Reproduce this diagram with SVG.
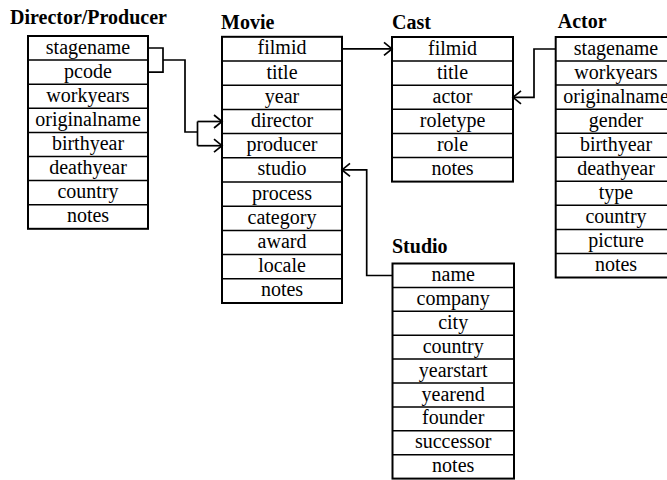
<svg xmlns="http://www.w3.org/2000/svg" width="667" height="480" viewBox="0 0 667 480">
<style>
.t{font-family:"Liberation Serif","Times New Roman",serif;font-size:20px;fill:#000;text-anchor:middle}
.h{font-family:"Liberation Serif","Times New Roman",serif;font-size:20px;font-weight:bold;fill:#000}
.box{fill:#fff;stroke:#000;stroke-width:2}
.ln{stroke:#000;stroke-width:1.5}
.c{fill:none;stroke:#000;stroke-width:1.7}
</style>
<defs>
<marker id="arr" markerUnits="userSpaceOnUse" markerWidth="12" markerHeight="16" refX="8.5" refY="8" orient="auto" overflow="visible">
<path d="M0.5,1.5 L8.5,8 L0.5,14.5" fill="none" stroke="#000" stroke-width="1.7"/>
</marker>
</defs>
<rect width="667" height="480" fill="#fff"/>

<g id="director">
<text class="h" x="10" y="23.7">Director/Producer</text>
<rect class="box" x="28" y="36" width="120" height="192.8"/>
<path class="ln" d="M28,60.1H148M28,84.2H148M28,108.3H148M28,132.4H148M28,156.5H148M28,180.6H148M28,204.7H148"/>
<text class="t" x="88" y="53.5">stagename</text>
<text class="t" x="88" y="77.6">pcode</text>
<text class="t" x="88" y="101.7">workyears</text>
<text class="t" x="88" y="125.8">originalname</text>
<text class="t" x="88" y="149.9">birthyear</text>
<text class="t" x="88" y="174">deathyear</text>
<text class="t" x="88" y="198.1">country</text>
<text class="t" x="88" y="222.2">notes</text>
</g>

<g id="movie">
<text class="h" x="221" y="29">Movie</text>
<rect class="box" x="222" y="36.8" width="120" height="266.2"/>
<path class="ln" d="M222,61H342M222,85.2H342M222,109.4H342M222,133.6H342M222,157.8H342M222,182H342M222,206.2H342M222,230.4H342M222,254.6H342M222,278.8H342"/>
<text class="t" x="282" y="54.3">filmid</text>
<text class="t" x="282" y="78.5">title</text>
<text class="t" x="282" y="102.7">year</text>
<text class="t" x="282" y="126.9">director</text>
<text class="t" x="282" y="151.1">producer</text>
<text class="t" x="282" y="175.3">studio</text>
<text class="t" x="282" y="199.5">process</text>
<text class="t" x="282" y="223.7">category</text>
<text class="t" x="282" y="247.9">award</text>
<text class="t" x="282" y="272.1">locale</text>
<text class="t" x="282" y="296.3">notes</text>
</g>

<g id="cast">
<text class="h" x="392" y="29">Cast</text>
<rect class="box" x="392" y="37" width="121" height="144.6"/>
<path class="ln" d="M392,61.1H513M392,85.2H513M392,109.3H513M392,133.4H513M392,157.5H513"/>
<text class="t" x="452.5" y="54.5">filmid</text>
<text class="t" x="452.5" y="78.6">title</text>
<text class="t" x="452.5" y="102.7">actor</text>
<text class="t" x="452.5" y="126.8">roletype</text>
<text class="t" x="452.5" y="150.9">role</text>
<text class="t" x="452.5" y="175">notes</text>
</g>

<g id="actor">
<text class="h" x="557.7" y="28">Actor</text>
<rect class="box" x="555.7" y="37" width="120.6" height="240.5"/>
<path class="ln" d="M555.7,61.05H676M555.7,85.1H676M555.7,109.15H676M555.7,133.2H676M555.7,157.25H676M555.7,181.3H676M555.7,205.35H676M555.7,229.4H676M555.7,253.45H676"/>
<text class="t" x="616" y="54.5">stagename</text>
<text class="t" x="616" y="78.55">workyears</text>
<text class="t" x="616" y="102.6">originalname</text>
<text class="t" x="616" y="126.65">gender</text>
<text class="t" x="616" y="150.7">birthyear</text>
<text class="t" x="616" y="174.75">deathyear</text>
<text class="t" x="616" y="198.8">type</text>
<text class="t" x="616" y="222.85">country</text>
<text class="t" x="616" y="246.9">picture</text>
<text class="t" x="616" y="270.95">notes</text>
</g>

<g id="studio">
<text class="h" x="392" y="252.7">Studio</text>
<rect class="box" x="392.5" y="263.5" width="121.5" height="215.1"/>
<path class="ln" d="M392.5,287.4H514M392.5,311.3H514M392.5,335.2H514M392.5,359.1H514M392.5,383H514M392.5,406.9H514M392.5,430.8H514M392.5,454.7H514"/>
<text class="t" x="453.2" y="281">name</text>
<text class="t" x="453.2" y="304.9">company</text>
<text class="t" x="453.2" y="328.8">city</text>
<text class="t" x="453.2" y="352.7">country</text>
<text class="t" x="453.2" y="376.6">yearstart</text>
<text class="t" x="453.2" y="400.5">yearend</text>
<text class="t" x="453.2" y="424.4">founder</text>
<text class="t" x="453.2" y="448.3">successor</text>
<text class="t" x="453.2" y="472.2">notes</text>
</g>

<g id="connectors">
<path class="c" d="M148,48H163V72.2H148"/>
<path class="c" d="M163,60H185V132H197.5"/>
<path class="c" d="M197.5,121.5V145.7"/>
<path class="c" d="M197.5,121.5H222" marker-end="url(#arr)"/>
<path class="c" d="M197.5,145.7H222" marker-end="url(#arr)"/>
<path class="c" d="M342,48.9H392" marker-end="url(#arr)"/>
<path class="c" d="M555.7,49H534V97.3H513" marker-end="url(#arr)"/>
<path class="c" d="M392.5,275.5H366.7V169.9H342" marker-end="url(#arr)"/>
</g>
</svg>
